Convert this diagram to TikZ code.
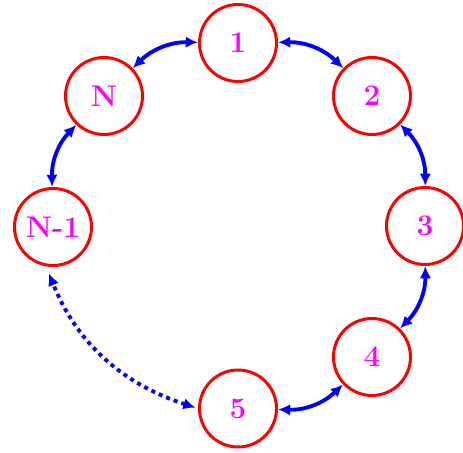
\documentclass[tikz,border=0pt]{standalone}
\usepackage{xcolor}
\usepackage{tikz}
\usetikzlibrary{arrows.meta}

\definecolor{ringred}{RGB}{255,0,0}
\definecolor{labelmag}{RGB}{255,0,255}
\definecolor{linkblue}{RGB}{0,0,255}

\tikzset{
  ring/.style={circle, draw=ringred, line width=1.7pt, minimum size=1.54cm, inner sep=0pt,
    text=labelmag, font=\fontsize{17}{21}\selectfont\bfseries},
  link/.style={<->, linkblue, line width=2.2pt, bend left=22.5},
}

\begin{document}
\begin{tikzpicture}[>={Latex[length=7pt,width=6.5pt]}]
\useasboundingbox (0,0) rectangle (9.26,9.06);

\node[ring] (n1) at (4.76,8.20) {1};
\node[ring] (n2) at (7.44,7.14) {2};
\node[ring] (n3) at (8.50,4.54) {3};
\node[ring] (n4) at (7.44,1.92) {4};
\node[ring] (n5) at (4.76,0.89) {5};
\node[ring] (nNm1) at (1.06,4.52) {N-1};
\node[ring] (nN) at (2.08,7.14) {N};

\draw[link] (n1) to (n2);
\draw[link] (n2) to (n3);
\draw[link] (n3) to (n4);
\draw[link] (n4) to (n5);
\draw[link] (nNm1) to (nN);
\draw[link] (nN) to (n1);

% the gap between 5 and N-1
\draw[<->, linkblue, line width=2.2pt, dash pattern=on 2.3pt off 2.3pt,
  shorten <=0.05cm, shorten >=0.15cm]
  (n5.west) to[bend left=25] (nNm1.260);
\end{tikzpicture}
\end{document}
